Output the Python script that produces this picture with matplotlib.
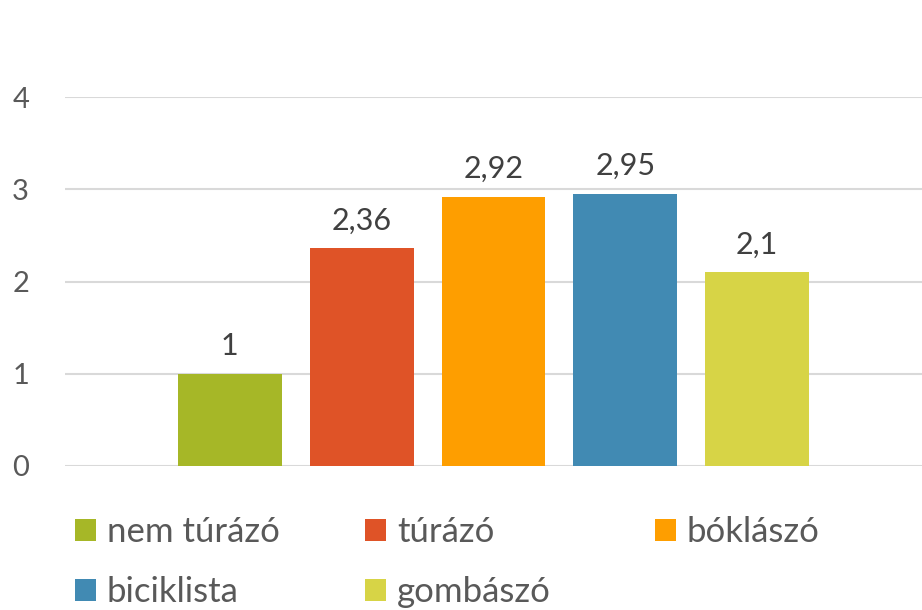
import matplotlib
matplotlib.use("Agg")
import matplotlib.pyplot as plt
from matplotlib.patches import Patch

categories = ["nem túrázó", "túrázó", "bóklászó", "biciklista", "gombászó"]
values = [1, 2.36, 2.92, 2.95, 2.1]
labels = ["1", "2,36", "2,92", "2,95", "2,1"]
colors = ["#A6B727", "#DF5327", "#FE9E00", "#418AB3", "#D7D446"]
yticks = [0, 1, 2, 3, 4]

plt.rcParams['font.family'] = ['Lato', 'DejaVu Sans']

fig = plt.figure(figsize=(9.22, 6.10), dpi=100)
ax = fig.add_axes([65/922, (610-466)/610, (922-65)/922, 369/610])

offsets = [-2, -1, 0, 1, 2]
ax.bar(offsets, values, width=0.788, color=colors, zorder=3)
for x, v, lab in zip(offsets, values, labels):
    ax.annotate(lab, (x, v), xytext=(0, 10), textcoords="offset points",
                ha="center", va="bottom", fontsize=22, color="#404040")

ax.set_xlim(-3.25, 3.25)
ax.set_ylim(0, 4)
ax.set_yticks(yticks)
ax.set_yticklabels([str(t) for t in yticks], fontsize=21, color="#595959")
ax.set_xticks([])
ax.tick_params(axis="y", length=0, pad=38)
for lab in ax.get_yticklabels():
    lab.set_horizontalalignment("left")
ax.grid(axis="y", color="#D9D9D9", linewidth=1.5, zorder=0)
for s in ax.spines.values():
    s.set_visible(False)

handles = [Patch(facecolor=c, edgecolor="none") for c in colors]
cols = [[0, 3], [1, 4], [2]]
xpos = [75, 365, 655]
for xp, idx in zip(xpos, cols):
    fig.legend([handles[i] for i in idx], [categories[i] for i in idx],
               loc="upper left", bbox_to_anchor=(xp/922, 1 - 516/610),
               frameon=False, fontsize=25, labelcolor="#595959",
               handlelength=0.6, handleheight=0.6, handletextpad=0.32,
               labelspacing=0.8, borderaxespad=0, borderpad=0)

fig.savefig("out.png", dpi=100)
